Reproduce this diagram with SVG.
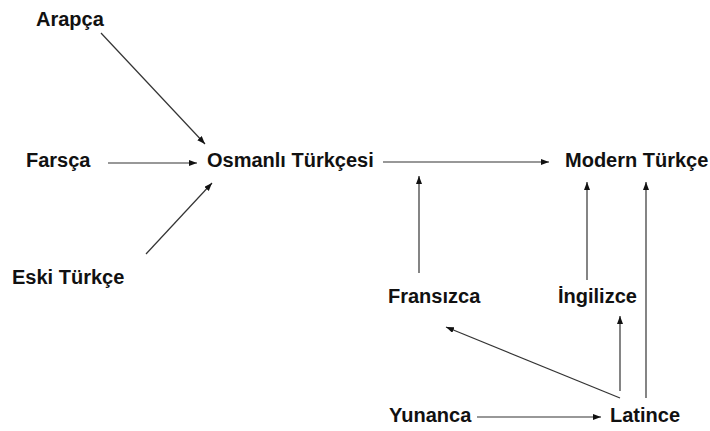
<svg xmlns="http://www.w3.org/2000/svg" width="710" height="431" viewBox="0 0 710 431">
<style>
.t{font-family:"Liberation Sans",Arial,sans-serif;font-weight:bold;font-size:20px;fill:#111}
.c line{stroke:#333;stroke-width:1.2;marker-end:url(#ah)}
</style>
<defs>
<marker id="ah" markerUnits="userSpaceOnUse" markerWidth="9" markerHeight="7" refX="8" refY="3" orient="auto">
<path d="M0,0 L8,3 L0,6 z" fill="#111"/>
</marker>
</defs>
<rect width="710" height="431" fill="#fff"/>
<g class="c" id="connectors">
<line x1="101" y1="33" x2="205" y2="144"/>
<line x1="108" y1="163" x2="197" y2="163"/>
<line x1="146" y1="254" x2="212" y2="183"/>
<line x1="383" y1="162" x2="549" y2="162"/>
<line x1="419" y1="273" x2="419" y2="176"/>
<line x1="587" y1="280" x2="587" y2="182"/>
<line x1="646" y1="398" x2="646" y2="182"/>
<line x1="620" y1="391" x2="620" y2="316"/>
<line x1="620" y1="398" x2="446" y2="327"/>
<line x1="477" y1="417" x2="601" y2="417"/>
</g>
<g id="arapca"><text class="t" x="36" y="26">Arapça</text></g>
<g id="farsca"><text class="t" x="26" y="167">Farsça</text></g>
<g id="osmanli"><text class="t" x="207" y="167">Osmanlı Türkçesi</text></g>
<g id="modern"><text class="t" x="565" y="167">Modern Türkçe</text></g>
<g id="eski"><text class="t" x="12" y="284">Eski Türkçe</text></g>
<g id="fransizca"><text class="t" x="388" y="303">Fransızca</text></g>
<g id="ingilizce"><text class="t" x="558" y="303">İngilizce</text></g>
<g id="yunanca"><text class="t" x="389" y="422">Yunanca</text></g>
<g id="latince"><text class="t" x="610" y="422">Latince</text></g>
</svg>
